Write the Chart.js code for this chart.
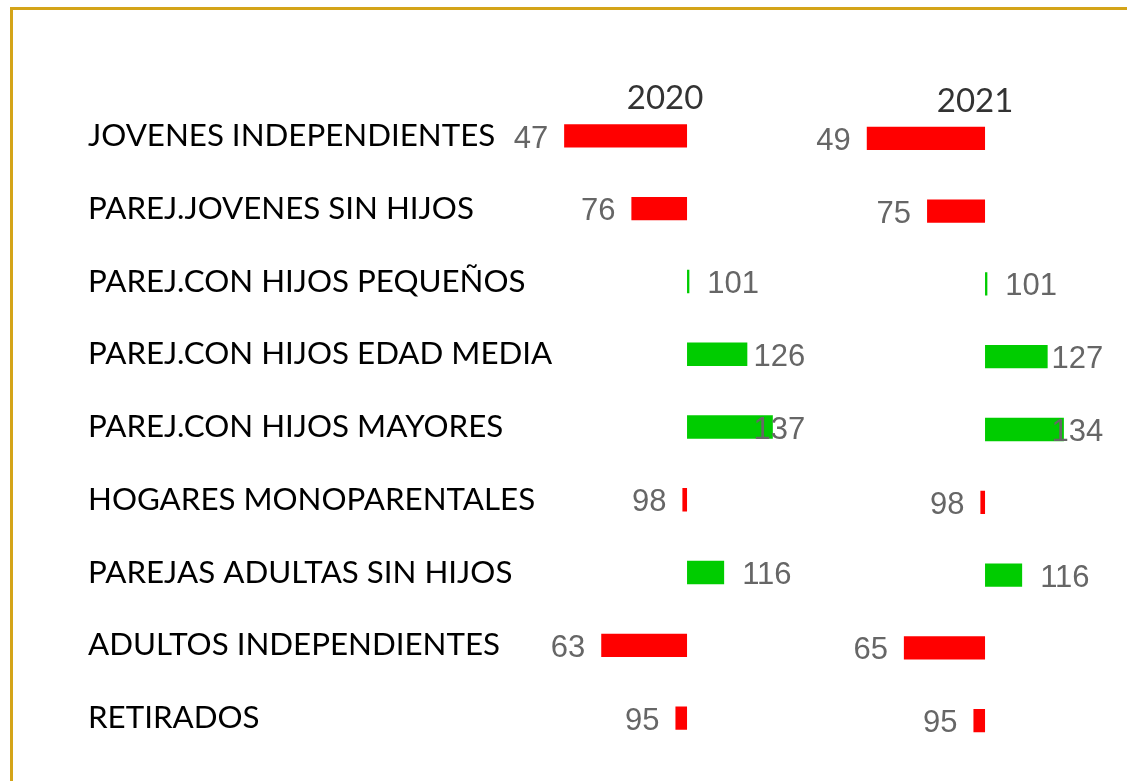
<!DOCTYPE html>
<html>
<head>
<meta charset="utf-8">
<script src="https://cdn.jsdelivr.net/npm/chart.js@4.4.1/dist/chart.umd.min.js"></script>
<style>
  html, body { margin: 0; padding: 0; background: #fff; }
  #page { position: relative; width: 1127px; height: 781px; overflow: hidden; }
  #frame {
    position: absolute; left: 10px; top: 7px; width: 1200px; height: 800px;
    border-top: 3px solid #d4a418; border-left: 3px solid #d4a418;
  }
  .panel { position: absolute; top: 0; height: 781px; }
  #panelA { left: 0; width: 820px; }
  #panelB { left: 780px; width: 347px; }
</style>
</head>
<body>
<div id="page">
  <div id="frame"></div>
  <div class="panel" id="panelA"><canvas id="chartA"></canvas></div>
  <div class="panel" id="panelB"><canvas id="chartB"></canvas></div>
</div>
<script>
// index values (100 = average)
const categories = [
  'JOVENES INDEPENDIENTES',
  'PAREJ.JOVENES SIN HIJOS',
  'PAREJ.CON HIJOS PEQUEÑOS',
  'PAREJ.CON HIJOS EDAD MEDIA',
  'PAREJ.CON HIJOS MAYORES',
  'HOGARES MONOPARENTALES',
  'PAREJAS ADULTAS SIN HIJOS',
  'ADULTOS INDEPENDIENTES',
  'RETIRADOS'
];
const years = ['2020', '2021'];
const values2020 = [47, 76, 101, 126, 137, 98, 116, 63, 95];
const values2021 = [49, 75, 101, 127, 134, 98, 116, 65, 95];
const BASE = 100;
const X_MIN = 45;
const X_MAX = 151;

const RED = '#ff0000';
const GREEN = '#00cc00';

// value labels next to bar ends, kept inside the plot area on the right like Excel does
const valueLabels = {
  id: 'valueLabels',
  afterDatasetsDraw(chart) {
    const { ctx, chartArea } = chart;
    const ds = chart.data.datasets[0];
    const meta = chart.getDatasetMeta(0);
    const xScale = chart.scales.x;
    ctx.save();
    ctx.font = '31px "Liberation Sans", Arial, sans-serif';
    ctx.fillStyle = '#666666';
    ctx.textBaseline = 'middle';
    meta.data.forEach((bar, i) => {
      const v = ds.values[i];
      const text = String(v);
      const endX = xScale.getPixelForValue(v);
      if (v < BASE) {
        ctx.textAlign = 'right';
        ctx.fillText(text, endX - 16, bar.y + 3);
      } else {
        const w = ctx.measureText(text).width;
        ctx.textAlign = 'left';
        ctx.fillText(text, Math.min(endX + 18, chartArea.right - w), bar.y + 3);
      }
    });
    ctx.restore();
  }
};

// year heading above each panel
const panelTitle = {
  id: 'panelTitle',
  afterDraw(chart, args, opts) {
    const { ctx } = chart;
    const x = chart.scales.x.getPixelForValue(BASE) + opts.dx;
    ctx.save();
    ctx.font = '33px Lato, "Open Sans", sans-serif';
    ctx.fillStyle = '#333333';
    ctx.textAlign = 'center';
    ctx.textBaseline = 'middle';
    ctx.fillText(opts.text, x, opts.y);
    ctx.restore();
  }
};

function buildChart(canvasId, values, title, cfg) {
  return new Chart(document.getElementById(canvasId), {
    type: 'bar',
    data: {
      labels: categories,
      datasets: [{
        data: values.map(v => [BASE, v]),
        values: values,
        backgroundColor: values.map(v => v < BASE ? RED : GREEN),
        borderWidth: 0,
        barPercentage: 0.32,
        categoryPercentage: 1.0
      }]
    },
    options: {
      indexAxis: 'y',
      responsive: true,
      maintainAspectRatio: false,
      animation: false,
      layout: { padding: cfg.padding },
      scales: {
        x: {
          display: false,
          min: X_MIN,
          max: X_MAX
        },
        y: {
          display: cfg.showLabels,
          grid: { display: false },
          border: { display: false },
          ticks: {
            crossAlign: 'far',
            padding: 0,
            color: '#000000',
            font: { family: 'Lato, "Open Sans", sans-serif', size: 31.3 }
          },
          afterFit: cfg.showLabels ? (scale) => { scale.width = cfg.axisWidth; } : undefined
        }
      },
      plugins: {
        legend: { display: false },
        tooltip: { enabled: false },
        panelTitle: { text: title, dx: cfg.titleDx, y: cfg.titleY }
      }
    },
    plugins: [valueLabels, panelTitle]
  });
}

buildChart('chartA', values2020, years[0], {
  showLabels: true,
  axisWidth: 471.5,
  padding: { left: 88, right: 14.7, top: 99.6, bottom: 26.6 },
  titleDx: -22,
  titleY: 98
});

buildChart('chartB', values2021, years[1], {
  showLabels: false,
  padding: { left: 77.5, right: 23.7, top: 102, bottom: 24 },
  titleDx: -10,
  titleY: 101
});
</script>
</body>
</html>
